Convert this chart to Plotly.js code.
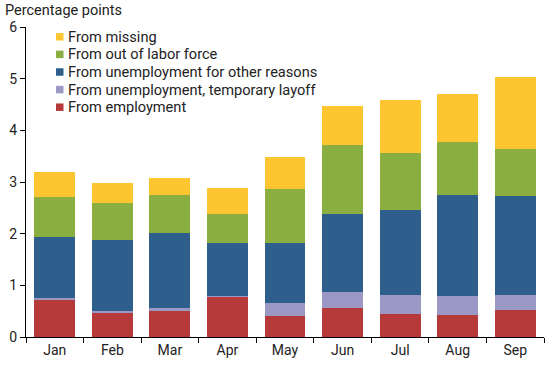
<!DOCTYPE html>
<html>
<head>
<meta charset="utf-8">
<script src="https://cdn.plot.ly/plotly-3.0.1.min.js"></script>
<style>html,body{margin:0;padding:0;background:#fff;}#chart{width:550px;height:365px;}</style>
</head>
<body>
<div id="chart"></div>
<script>
const months = ["Jan","Feb","Mar","Apr","May","Jun","Jul","Aug","Sep"];
const fromEmployment = [0.72, 0.465, 0.50, 0.775, 0.405, 0.56, 0.445, 0.425, 0.52];
const fromTempLayoff = [0.04, 0.04, 0.06, 0.02, 0.255, 0.31, 0.365, 0.365, 0.29];
const fromUnempOther = [1.175, 1.37, 1.45, 1.03, 1.16, 1.51, 1.65, 1.96, 1.92];
const fromOutOfLF = [0.775, 0.71, 0.74, 0.56, 1.04, 1.34, 1.10, 1.02, 0.91];
const fromMissing = [0.48, 0.39, 0.33, 0.50, 0.62, 0.75, 1.03, 0.93, 1.39];

const seriesNames = ["From employment", "From unemployment, temporary layoff",
  "From unemployment for other reasons", "From out of labor force", "From missing"];
const seriesValues = [fromEmployment, fromTempLayoff, fromUnempOther, fromOutOfLF, fromMissing];
const seriesColors = ["#B73A3A", "#9C98C6", "#2E5E8C", "#8BAE41", "#FDC52F"];

const traces = seriesNames.map((n, i) => ({
  type: "bar", x: months, y: seriesValues[i], name: n,
  marker: {color: seriesColors[i], line: {width: 0}},
  hoverinfo: "name+y"
}));

const W = 550, H = 365;
const M = {l: 26, r: 6, t: 27, b: 28};
const pw = W - M.l - M.r, ph = H - M.t - M.b;
const px2x = px => (px - M.l) / pw;
const py2y = py => (H - M.b - py) / ph;

const fam = "Roboto, 'Open Sans', sans-serif";
const font = {family: fam, size: 14, color: "#222"};
const legFont = {family: fam, size: 14.6, color: "#222"};

// custom legend (top row = last series)
const shapes = [], annotations = [];
const legTop = 36.8, legStep = 17.6, sqL = 56, sqS = 7.5, txtL = 66.5;
for (let k = 0; k < seriesNames.length; k++) {
  const i = seriesNames.length - 1 - k;
  const cy = legTop + k * legStep;
  shapes.push({type: "rect", xref: "paper", yref: "paper",
    x0: px2x(sqL), x1: px2x(sqL + sqS), y0: py2y(cy + sqS / 2), y1: py2y(cy - sqS / 2),
    fillcolor: seriesColors[i], line: {width: 0}});
  annotations.push({xref: "paper", yref: "paper", x: px2x(txtL), y: py2y(cy),
    xanchor: "left", yanchor: "middle", showarrow: false, text: seriesNames[i],
    font: legFont, borderpad: 0});
}

const layout = {
  width: W, height: H,
  margin: M,
  paper_bgcolor: "#fff", plot_bgcolor: "#fff",
  font: font,
  barmode: "stack",
  bargap: 0.29,
  showlegend: false,
  shapes: shapes,
  annotations: annotations,
  title: {
    text: "Percentage points",
    font: {family: fam, size: 14.5, color: "#222"},
    xref: "container", yref: "container",
    x: 0.009, xanchor: "left", y: 0.972, yanchor: "middle"
  },
  xaxis: {
    type: "category",
    range: [-0.5, 8.5],
    showline: true, linecolor: "#000", linewidth: 1,
    ticks: "outside", ticklen: 5, tickcolor: "#000", tickson: "boundaries",
    showgrid: false, zeroline: false,
    tickfont: font
  },
  yaxis: {
    range: [0, 6],
    dtick: 1, tick0: 0,
    showline: true, linecolor: "#000", linewidth: 1,
    ticks: "outside", ticklen: 5, tickcolor: "#000",
    showgrid: false, zeroline: false,
    tickfont: font
  }
};

Plotly.newPlot("chart", traces, layout, {displayModeBar: false, staticPlot: true});
</script>
</body>
</html>
